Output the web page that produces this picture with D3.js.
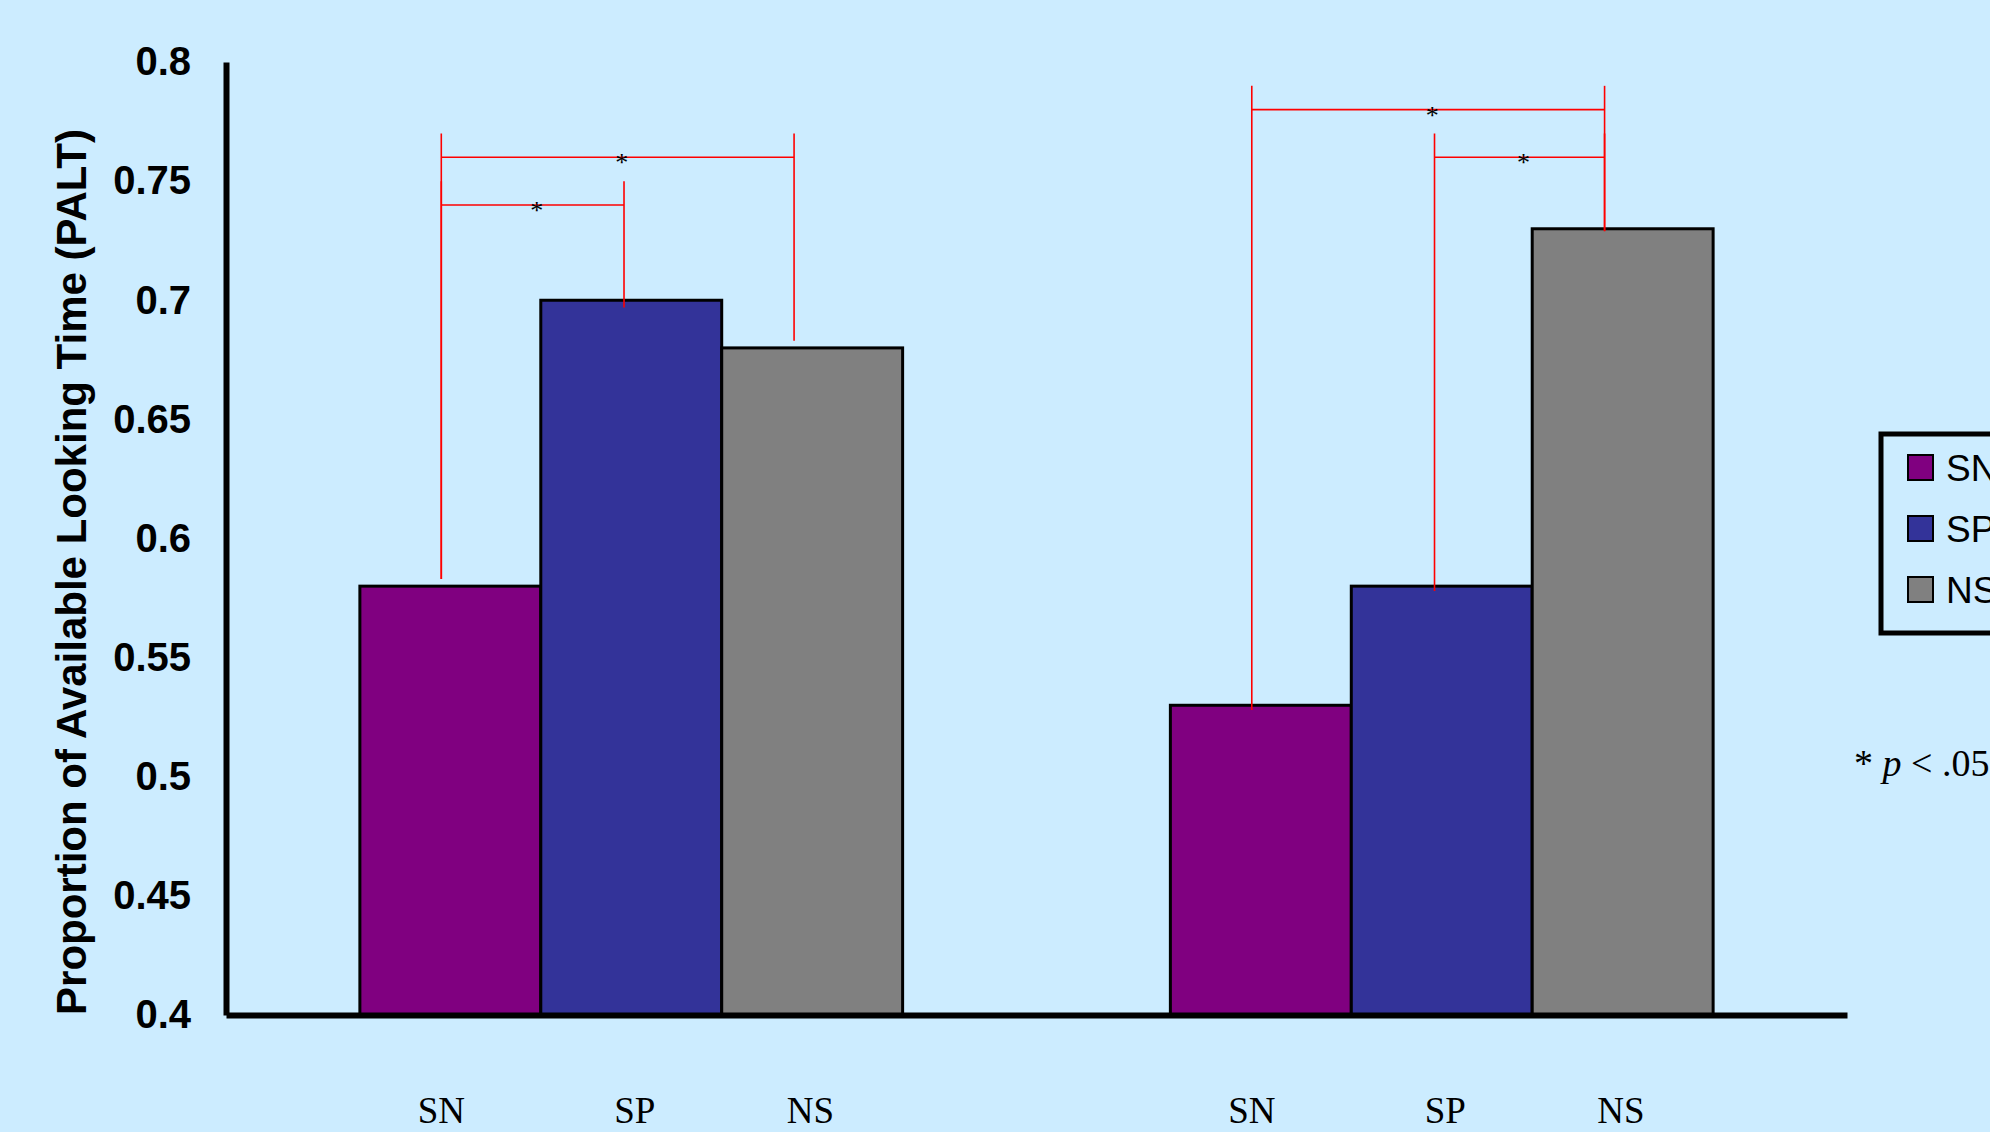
<!DOCTYPE html>
<html>
<head>
<meta charset="utf-8">
<script src="https://cdn.jsdelivr.net/npm/d3@7"></script>
<style>
  body { margin: 0; background: #CCECFF; }
  svg { display: block; }
</style>
</head>
<body>
<div id="chart"></div>
<script>
var w = 1990;
var h = 1132;

// data
var groups = ["g1", "g2"];
var series = ["SN", "SP", "NS"];
var values = [
  [0.58, 0.70, 0.68],
  [0.53, 0.58, 0.73]
];
var colors = ["#800080", "#333399", "#808080"];
var yTicks = [0.4, 0.45, 0.5, 0.55, 0.6, 0.65, 0.7, 0.75, 0.8];
var yTickLabels = ["0.4", "0.45", "0.5", "0.55", "0.6", "0.65", "0.7", "0.75", "0.8"];

// significance brackets: [group, from series, to series, level]
var brackets = [
  [0, 0, 2, 0.76],
  [0, 0, 1, 0.74],
  [1, 0, 2, 0.78],
  [1, 1, 2, 0.76]
];
// where each red vertical stops (per group, per series)
var bracketEnds = [
  [0.583, 0.697, 0.683],
  [0.528, 0.578, 0.729]
];

// where inside each bar the red verticals / the labels sit (fraction of bar width)
var bracketPos = [0.45, 0.46, 0.40];
var labelPos = [0.45, 0.52, 0.49];

var svg = d3.select("#chart")
  .append("svg")
  .attr("width", w)
  .attr("height", h);

svg.append("rect")
  .attr("width", w)
  .attr("height", h)
  .attr("fill", "#CCECFF");

var x0 = d3.scaleBand()
  .domain(d3.range(groups.length))
  .range([226, 1847])
  .padding(0);

var x1 = d3.scaleBand()
  .domain(d3.range(series.length))
  .range([0, x0.bandwidth()])
  .paddingInner(0)
  .paddingOuter(0.74);

var y = d3.scaleLinear()
  .domain([0.4, 0.8])
  .range([1015, 62]);

// bars
var g = svg.selectAll("g.group")
  .data(values)
  .enter()
  .append("g")
  .attr("class", "group")
  .attr("transform", function(d, i) { return "translate(" + x0(i) + ",0)"; });

g.selectAll("rect")
  .data(function(d) { return d; })
  .enter()
  .append("rect")
  .attr("x", function(d, i) { return x1(i); })
  .attr("y", function(d) { return y(d); })
  .attr("width", x1.bandwidth())
  .attr("height", function(d) { return y(0.4) - y(d); })
  .attr("fill", function(d, i) { return colors[i]; })
  .attr("stroke", "#000")
  .attr("stroke-width", 3);

// category labels under each bar
g.selectAll("text.cat")
  .data(series)
  .enter()
  .append("text")
  .attr("class", "cat")
  .text(function(d) { return d; })
  .attr("x", function(d, i) { return x1(i) + x1.bandwidth() * labelPos[i]; })
  .attr("y", 1123)
  .attr("text-anchor", "middle")
  .attr("font-family", "'Liberation Serif', 'Times New Roman', serif")
  .attr("font-size", "37px")
  .attr("fill", "#000");

// axes
var yAxis = d3.axisLeft(y)
  .tickValues(yTicks)
  .tickFormat(function(d, i) { return yTickLabels[i]; })
  .tickSize(0)
  .tickPadding(35);

var ya = svg.append("g")
  .attr("transform", "translate(226,0)")
  .call(yAxis);
ya.select(".domain").attr("stroke", "#000").attr("stroke-width", 6);
ya.selectAll("text")
  .attr("font-family", "'Liberation Sans', Arial, sans-serif")
  .attr("font-weight", "bold")
  .attr("font-size", "40px")
  .attr("fill", "#000");

var xAxis = d3.axisBottom(x0)
  .tickFormat("")
  .tickSize(0);

var xa = svg.append("g")
  .attr("transform", "translate(0," + y(0.4) + ")")
  .call(xAxis);
xa.select(".domain").attr("stroke", "#000").attr("stroke-width", 6);

svg.append("text")
  .text("Proportion of Available Looking Time (PALT)")
  .attr("transform", "translate(86,572) rotate(-90)")
  .attr("text-anchor", "middle")
  .attr("font-family", "'Liberation Sans', Arial, sans-serif")
  .attr("font-weight", "bold")
  .attr("font-size", "42px")
  .attr("fill", "#000");

// significance brackets
function bx(gi, si) {
  return x0(gi) + x1(si) + x1.bandwidth() * bracketPos[si];
}
var step = 0.01;
var br = svg.append("g").attr("class", "brackets");

brackets.forEach(function(b) {
  var gi = b[0], a = b[1], c = b[2], lvl = b[3];
  var xa1 = bx(gi, a), xb1 = bx(gi, c);
  br.append("line")
    .attr("x1", xa1).attr("x2", xa1)
    .attr("y1", y(lvl + step)).attr("y2", y(bracketEnds[gi][a]));
  br.append("line")
    .attr("x1", xb1).attr("x2", xb1)
    .attr("y1", y(lvl + step)).attr("y2", y(bracketEnds[gi][c]));
  br.append("line")
    .attr("x1", xa1).attr("x2", xb1)
    .attr("y1", y(lvl)).attr("y2", y(lvl));
  br.append("text")
    .text("*")
    .attr("x", (xa1 + xb1) / 2 + 4)
    .attr("y", y(lvl) + 14)
    .attr("text-anchor", "middle")
    .attr("font-family", "'Liberation Serif', 'Times New Roman', serif")
    .attr("font-size", "26px")
    .attr("fill", "#000");
});
br.selectAll("line")
  .attr("stroke", "#FF0000")
  .attr("stroke-width", 1.6);

// legend
var legend = svg.append("g").attr("class", "legend");
legend.append("rect")
  .attr("x", 1881)
  .attr("y", 434)
  .attr("width", 200)
  .attr("height", 199)
  .attr("fill", "none")
  .attr("stroke", "#000")
  .attr("stroke-width", 5);

var li = legend.selectAll("g.item")
  .data(series)
  .enter()
  .append("g")
  .attr("class", "item")
  .attr("transform", function(d, i) { return "translate(1908," + (455 + i * 61) + ")"; });

li.append("rect")
  .attr("width", 25)
  .attr("height", 25)
  .attr("fill", function(d, i) { return colors[i]; })
  .attr("stroke", "#000")
  .attr("stroke-width", 2);

li.append("text")
  .text(function(d) { return d; })
  .attr("x", 38)
  .attr("y", 12.5)
  .attr("dy", "0.36em")
  .attr("font-family", "'Liberation Sans', Arial, sans-serif")
  .attr("font-size", "37px")
  .attr("fill", "#000");

// footnote
var fn = svg.append("text")
  .attr("x", 1854)
  .attr("y", 776)
  .attr("font-family", "'Liberation Serif', 'Times New Roman', serif")
  .attr("font-size", "38px")
  .attr("fill", "#000");
fn.append("tspan").text("* ");
fn.append("tspan").attr("font-style", "italic").text("p");
fn.append("tspan").text(" < .05");
</script>
</body>
</html>
